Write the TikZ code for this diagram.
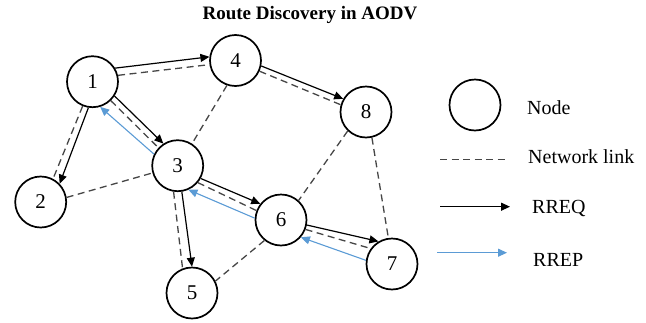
\documentclass[tikz,border=0pt]{standalone}
\usepackage{fontspec}
\setmainfont{Liberation Serif}
\usetikzlibrary{arrows.meta}
\definecolor{replyblue}{RGB}{91,155,213}
\definecolor{linkgray}{RGB}{70,70,70}
\begin{document}
\begin{tikzpicture}[x=1pt,y=-1pt,
  hostnode/.style={circle,draw,line width=1.7pt,minimum size=51pt,inner sep=0pt,
    font=\fontsize{21}{21}\selectfont},
  netlink/.style={draw=linkgray,line width=1.3pt,dash pattern=on 7pt off 4.5pt},
  rreq/.style={draw=black,line width=1.2pt,-{Triangle[length=9pt,width=8pt]}},
  rrep/.style={draw=replyblue,line width=1.1pt,-{Triangle[length=9pt,width=8pt]}},
  legtext/.style={anchor=base west,font=\fontsize{20}{20}\selectfont,inner sep=0pt}]
\useasboundingbox (0,0) rectangle (646,322);

% title
\node[font=\fontsize{19}{19}\selectfont\bfseries] (title) at (310,15) {Route Discovery in AODV};

% network hosts
\node[hostnode] (n1) at (92.5,81.7) {1};
\node[hostnode] (n2) at (40.7,202) {2};
\node[hostnode] (n3) at (177.7,165.7) {3};
\node[hostnode] (n4) at (235.5,60.5) {4};
\node[hostnode] (n5) at (192,293) {5};
\node[hostnode] (n6) at (281,220) {6};
\node[hostnode] (n7) at (392,264) {7};
\node[hostnode] (n8) at (366,112) {8};

% network links
\draw[netlink] (n1.14.7) -- (n4.-171);
\draw[netlink] (n4.-24.6) -- (n8.164.9);
\draw[netlink] (n1.-112) -- (n2.62);
\draw[netlink] (n1.-46.2) -- (n3.137.4);
\draw[netlink] (n3.-40.5) -- (n6.159);
\draw[netlink] (n3.-99.6) -- (n5.111.4);
\draw[netlink] (n6.-21.8) -- (n7.144.5);
\draw[netlink] (n4.-109) -- (n3.57);
\draw[netlink] (n2.10.9) -- (n3.-164.3);
\draw[netlink] (n8.-134.6) -- (n6.48.4);
\draw[netlink] (n8.-77) -- (n7.98.8);
\draw[netlink] (n6.-129.2) -- (n5.27.8);

% route requests
\draw[rreq] (n1.31.8) -- (n4.172);
\draw[rreq] (n4.-12.6) -- (n8.150.3);
\draw[rreq] (n1.-99) -- (n2.44);
\draw[rreq] (n1.-33.7) -- (n3.123.7);
\draw[rreq] (n3.-29.5) -- (n6.142.7);
\draw[rreq] (n3.-81.3) -- (n5.90.7);
\draw[rreq] (n6.-11) -- (n7.121.6);

% route replies
\draw[rrep] (n7.172) -- (n6.-41.5);
\draw[rrep] (n6.176.5) -- (n3.-66);
\draw[rrep] (n3.154.5) -- (n1.-73.3);

% legend
\node[hostnode] (legnode) at (475,105) {};
\node[legtext] (legnodetext) at (527,114) {Node};
\coordinate (linkA) at (440,159.3);
\coordinate (linkB) at (505,159.3);
\draw[netlink] (linkA) -- (linkB);
\node[legtext] (legnettext) at (528,163) {Network link};
\coordinate (reqA) at (440,206.7);
\coordinate (reqB) at (510,206.7);
\draw[rreq] (reqA) -- (reqB);
\node[legtext] (legreqtext) at (532,213) {RREQ};
\coordinate (repA) at (437,252.7);
\coordinate (repB) at (507,252.7);
\draw[rrep] (repA) -- (repB);
\node[legtext] (legreptext) at (533,266) {RREP};
\end{tikzpicture}
\end{document}
